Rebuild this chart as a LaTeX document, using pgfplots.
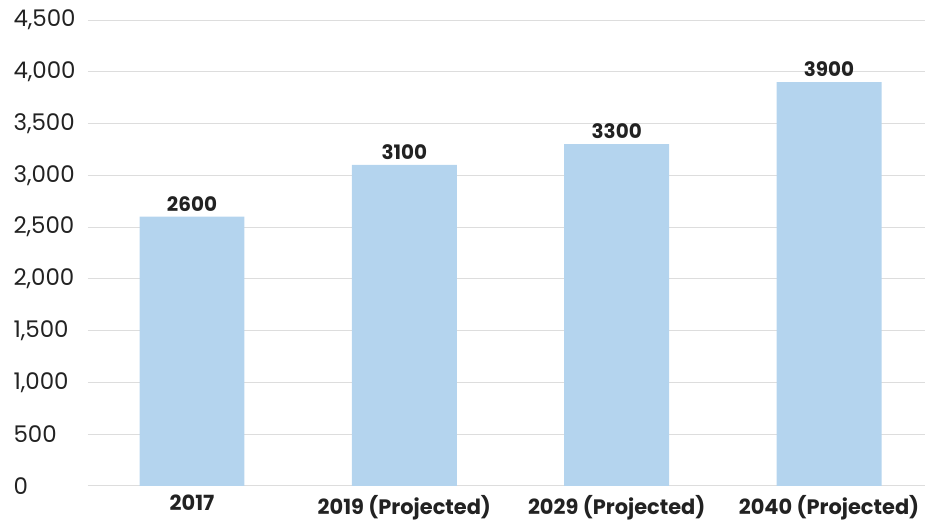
\documentclass[border=0pt]{standalone}
\usepackage{pgfplots}
\pgfplotsset{compat=1.18}
\usepackage{fontspec}
\setmainfont{Poppins}
\definecolor{barblue}{HTML}{B4D4EE}
\definecolor{gridgray}{HTML}{DDDDDD}
\definecolor{txt}{HTML}{222222}
\begin{document}
\begin{tikzpicture}
\begin{axis}[
  scale only axis,
  width=837bp, height=466bp,
  xmin=-0.49, xmax=3.45,
  ymin=0, ymax=4500,
  ytick={0,500,...,4500},
  xtick={0,1,2,3},
  xticklabels={2017,2019 (Projected),2029 (Projected),2040 (Projected)},
  axis line style={draw=none},
  major tick length=0pt,
  ymajorgrids,
  grid style={gridgray, line width=0.8pt},
  /pgf/number format/assume math mode=true,
  /pgf/number format/1000 sep={,},
  yticklabel style={anchor=west, xshift=-78bp, font=\fontsize{23}{27}\selectfont, text=txt},
  xticklabel style={font=\fontsize{21}{25}\selectfont\bfseries, text=txt, yshift=-6bp},
  nodes near coords,
  nodes near coords style={font=\fontsize{20}{24}\selectfont\bfseries, text=txt, yshift=2bp},
  point meta=explicit symbolic,
]
\addplot[ybar, bar width=105bp, fill=barblue, draw=none, bar shift=0pt]
  coordinates {(0,2600)[2600] (1,3100)[3100] (2,3300)[3300] (3,3900)[3900]};
\end{axis}
\path ([xshift=-88bp,yshift=-41bp]current axis.south west) rectangle ([yshift=20bp]current axis.north east);
\end{tikzpicture}
\end{document}
